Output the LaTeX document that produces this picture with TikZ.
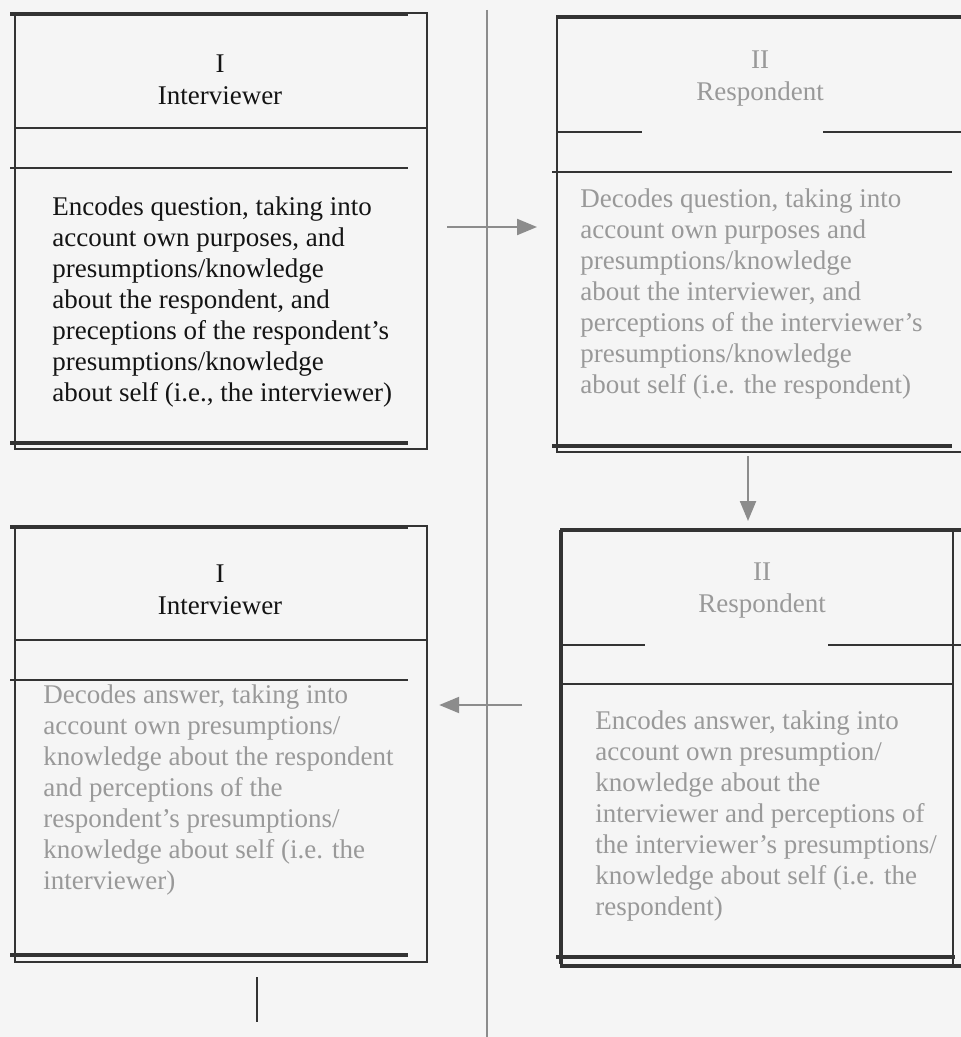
\documentclass[tikz,border=0pt]{standalone}
\usepackage{fontspec}
\setmainfont{Liberation Serif}
\usetikzlibrary{arrows.meta}

\definecolor{inkdark}{gray}{0.08}
\definecolor{inkpale}{gray}{0.6}
\definecolor{linedark}{gray}{0.2}
\definecolor{flowgray}{gray}{0.55}
\definecolor{paper}{gray}{0.96}

\tikzset{
  box/.style={draw=linedark, line width=1.1pt, inner sep=0pt, anchor=north west},
  rule/.style={draw=linedark, line width=1pt},
  thickrule/.style={draw=linedark, line width=1.8pt},
  head/.style={align=center, font=\fontsize{13.5}{16}\selectfont},
  body/.style={align=left, anchor=north west, inner sep=0pt, font=\fontsize{13.5}{15.5}\selectfont},
  flow/.style={draw=flowgray, line width=1.1pt, -{Triangle[length=10pt,width=8pt]}}
}

\begin{document}
\begin{tikzpicture}[x=0.5pt,y=-0.5pt]
  \useasboundingbox (0,0) rectangle (961,1037);
  \fill[paper] (0,0) rectangle (961,1037);

  % centre line
  \coordinate (divtop) at (487,10);
  \coordinate (divbot) at (487,1037);
  \draw[flowgray, line width=1.4pt] (divtop) -- (divbot);

  % I: encodes question
  \node[box, minimum width=206pt, minimum height=218pt] (encq) at (14,12) {};
  \draw[thickrule] (10,14) -- (408,14);
  \draw[rule] (encq.west |- 0,128) -- (encq.east |- 0,128);
  \draw[rule] (10,168) -- (408,168);
  \draw[thickrule] (10,443) -- (408,443);
  \node[head, inkdark] (encqhead) at (220,80) {I\\Interviewer};
  \node[body, inkdark] (encqtext) at (52,196) {Encodes question, taking into\\
    account own purposes, and\\ presumptions/knowledge\\ about the respondent, and\\
    preceptions of the respondent's\\ presumptions/knowledge\\
    about self (i.e., the interviewer)};

  % II: decodes question
  \node[box, minimum width=203pt, minimum height=218pt] (decq) at (556,15) {};
  \draw[thickrule] (556,17) -- (961,17);
  \draw[rule] (556,132) -- (642,132);
  \draw[rule] (823,132) -- (961,132);
  \draw[rule] (552,172) -- (952,172);
  \draw[thickrule] (552,446) -- (952,446);
  \node[head, inkpale] (decqhead) at (760,79) {II\\Respondent};
  \node[body, inkpale] (decqtext) at (580,188) {Decodes question, taking into\\
    account own purposes and\\ presumptions/knowledge\\ about the interviewer, and\\
    perceptions of the interviewer's\\ presumptions/knowledge\\
    about self (i.e. the respondent)};

  % II: encodes answer
  \node[box, minimum width=196pt, minimum height=219pt] (encans) at (560,528) {};
  \draw[thickrule] (560,530) -- (961,530);
  \draw[thickrule] (561,530) -- (561,964);
  \draw[rule] (560,645) -- (645,645);
  \draw[rule] (828,645) -- (961,645);
  \draw[rule] (560,684) -- (952,684);
  \draw[thickrule] (556,957) -- (955,957);
  \draw[thickrule] (560,966) -- (961,966);
  \node[head, inkpale] (encanshead) at (762,591) {II\\Respondent};
  \node[body, inkpale] (encanstext) at (595,710) {Encodes answer, taking into\\
    account own presumption/\\ knowledge about the\\ interviewer and perceptions of\\
    the interviewer's presumptions/\\ knowledge about self (i.e. the\\ respondent)};

  % I: decodes answer
  \node[box, minimum width=206pt, minimum height=218pt] (decans) at (14,525) {};
  \draw[thickrule] (10,527) -- (408,527);
  \draw[rule] (decans.west |- 0,640) -- (decans.east |- 0,640);
  \draw[rule] (10,680) -- (408,680);
  \draw[thickrule] (10,955) -- (408,955);
  \node[head, inkdark] (decanshead) at (220,590) {I\\Interviewer};
  \node[body, inkpale] (decanstext) at (43,684) {Decodes answer, taking into\\
    account own presumptions/\\ knowledge about the respondent\\ and perceptions of the\\
    respondent's presumptions/\\ knowledge about self (i.e. the\\ interviewer)};

  % flow between the boxes
  \draw[flow, shorten <=9.5pt, shorten >=9.5pt] (encq.east |- 0,227) -- (decq.west |- 0,227);
  \draw[flow, shorten <=1.5pt, shorten >=3.5pt] (decq.south -| 748,0) -- (encans.north -| 748,0);
  \draw[flow, shorten <=19pt, shorten >=5.5pt] (encans.west |- 0,705) -- (decans.east |- 0,705);

  \coordinate (tail) at (257,1022);
  \draw[linedark, line width=1.1pt, shorten <=7pt] (decans.south -| tail) -- (tail);
\end{tikzpicture}
\end{document}
